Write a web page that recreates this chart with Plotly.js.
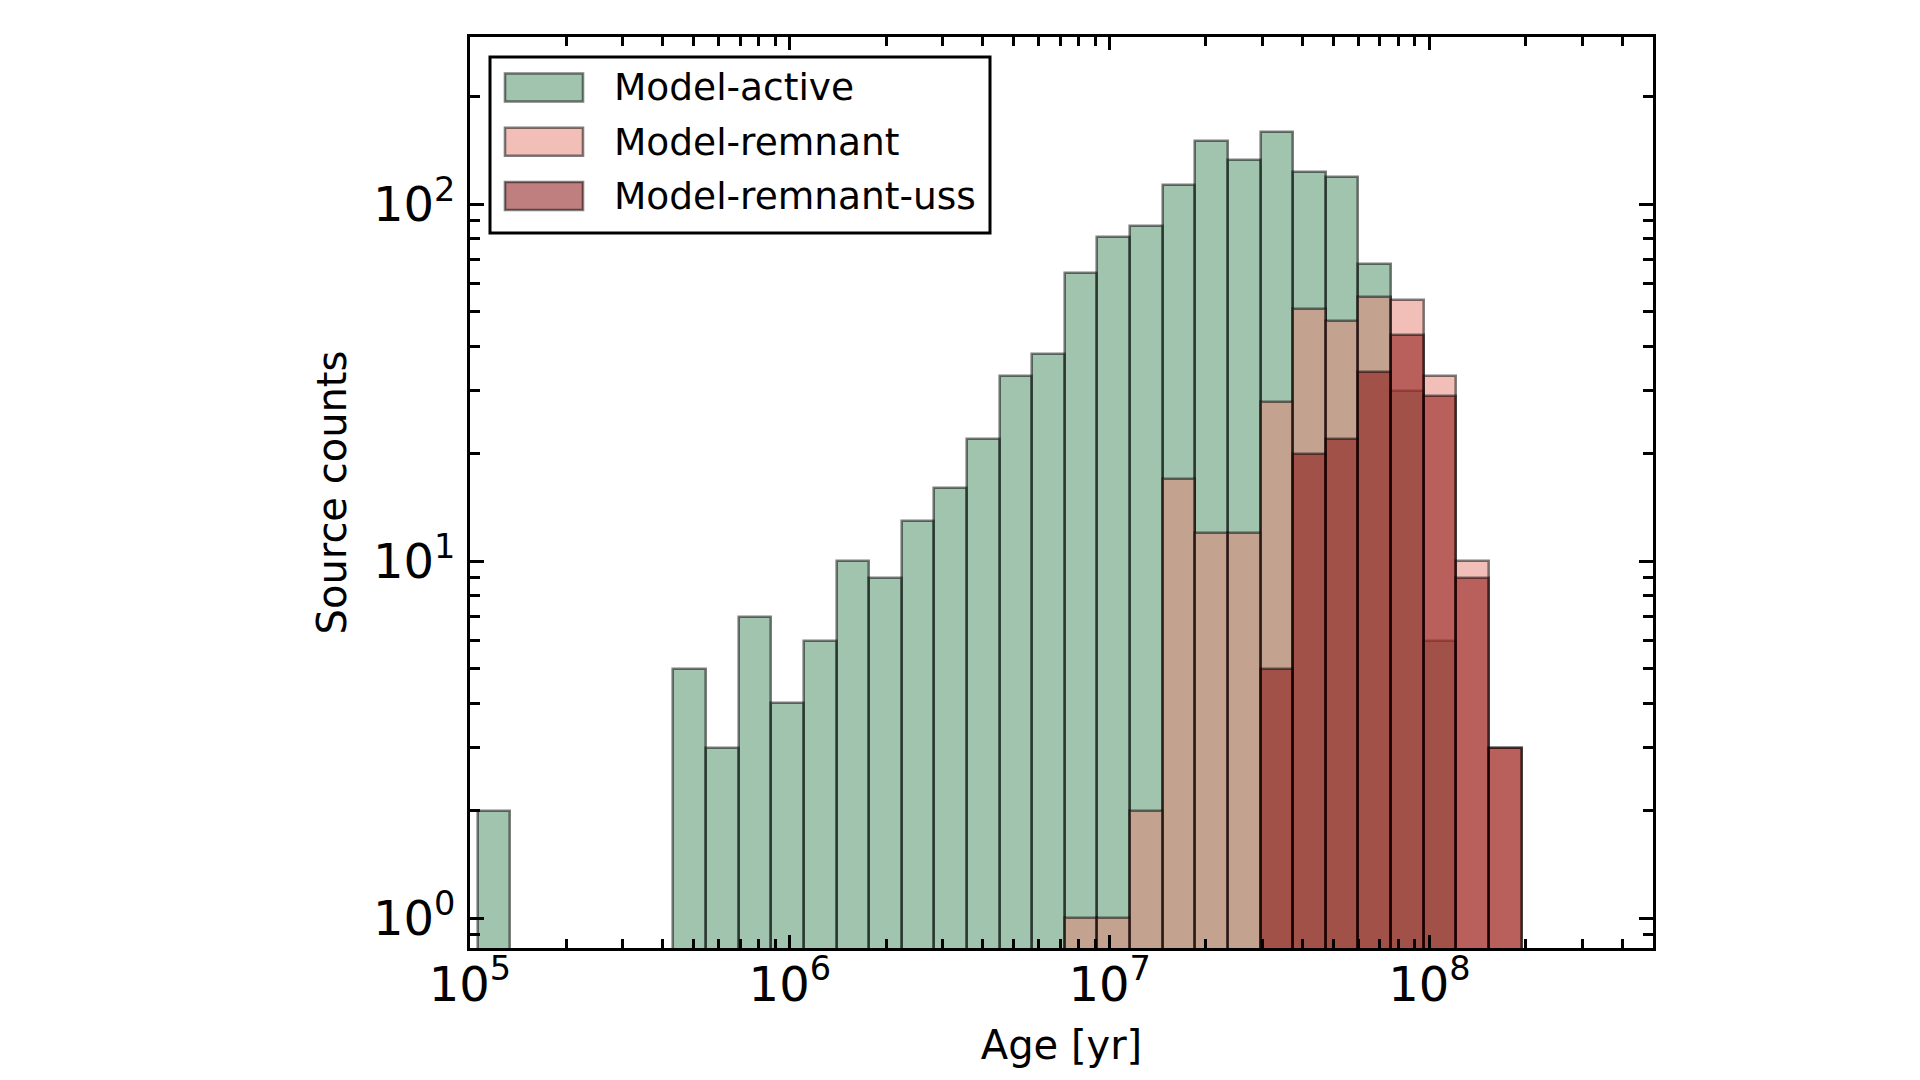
<!DOCTYPE html>
<html>
<head>
<meta charset="utf-8">
<script src="https://cdn.plot.ly/plotly-3.0.1.min.js"></script>
<style>
  html, body { margin: 0; padding: 0; background: #ffffff; }
  #chart { width: 1920px; height: 1080px; }
</style>
</head>
<body>
<div id="chart"></div>
<script>
// Histogram bin edges, log10(age / yr)
const binEdgesLog = [5.024, 5.126, 5.228, 5.330, 5.432, 5.534, 5.636, 5.738, 5.840, 5.942,
                     6.044, 6.146, 6.248, 6.350, 6.452, 6.554, 6.656, 6.758, 6.860, 6.962,
                     7.064, 7.166, 7.268, 7.370, 7.472, 7.574, 7.676, 7.778, 7.880, 7.982,
                     8.084, 8.186, 8.288];

// Source counts per bin (null = empty bin)
const modelActive = [2, null, null, null, null, null, 5, 3, 7, 4,
                     6, 10, 9, 13, 16, 22, 33, 38, 64, 81,
                     87, 113, 150, 133, 159, 123, 119, 68, 30, 6,
                     null, null];
const modelRemnant = [null, null, null, null, null, null, null, null, null, null,
                      null, null, null, null, null, null, null, null, 1, 1,
                      2, 17, 12, 12, 28, 51, 47, 55, 54, 33,
                      10, 3];
const modelRemnantUss = [null, null, null, null, null, null, null, null, null, null,
                         null, null, null, null, null, null, null, null, null, null,
                         null, null, null, null, 5, 20, 22, 34, 43, 29,
                         9, 3];

const seriesNames = ['Model-active', 'Model-remnant', 'Model-remnant-uss'];
const xTickVals = [1e5, 1e6, 1e7, 1e8];
const xTickText = ['10<sup>5</sup>', '10<sup>6</sup>', '10<sup>7</sup>', '10<sup>8</sup>'];
const yTickVals = [1, 10, 100];
const yTickText = ['10<sup>0</sup>', '10<sup>1</sup>', '10<sup>2</sup>'];

const fills = ['rgba(66,137,93,0.5)', 'rgba(230,127,114,0.5)', 'rgba(128,0,0,0.5)'];
const edge = 'rgba(0,0,0,0.5)';

// bar geometry from bin edges
const lo = binEdgesLog.slice(0, -1).map(v => Math.pow(10, v));
const hi = binEdgesLog.slice(1).map(v => Math.pow(10, v));
const centers = lo.map((a, i) => (a + hi[i]) / 2);
const widths = lo.map((a, i) => hi[i] - a);

function barTrace(vals, k) {
  return {
    type: 'bar', name: seriesNames[k], x: centers, y: vals, width: widths,
    marker: { color: fills[k], line: { color: edge, width: 2.6 } },
    showlegend: false, hoverinfo: 'x+y+name'
  };
}
const data = [barTrace(modelActive, 0), barTrace(modelRemnant, 1), barTrace(modelRemnantUss, 2)];

// minor tick positions
const xMinor = [];
for (let n = 5; n <= 8; n++) for (let k = 2; k <= 9; k++) { const v = k * Math.pow(10, n); if (v <= 5e8) xMinor.push(v); }
const yMinor = [0.9];
for (let n = 0; n <= 2; n++) for (let k = 2; k <= 9; k++) { const v = k * Math.pow(10, n); if (v <= 294) yMinor.push(v); }

// plot area in pixels
const L = 470, R = 1653, T = 37, B = 948;
const px = x => (x - L) / (R - L);
const py = y => (B - y) / (B - T);

const FONT = 'DejaVu Sans, Liberation Sans, sans-serif';

const shapes = [{
  type: 'rect', xref: 'paper', yref: 'paper', layer: 'above',
  x0: px(490), x1: px(990), y0: py(233), y1: py(57),
  fillcolor: '#ffffff', line: { color: '#000000', width: 3 }
}];
const annotations = [];
const rowY = [87.5, 141.7, 196];
for (let k = 0; k < 3; k++) {
  shapes.push({
    type: 'rect', xref: 'paper', yref: 'paper', layer: 'above',
    x0: px(505), x1: px(583), y0: py(rowY[k] + 14), y1: py(rowY[k] - 14),
    fillcolor: fills[k], line: { color: edge, width: 2.6 }
  });
  annotations.push({
    xref: 'paper', yref: 'paper', x: px(612), y: py(rowY[k]),
    xanchor: 'left', yanchor: 'middle', showarrow: false,
    text: seriesNames[k], font: { family: FONT, size: 37.5, color: '#000000' }
  });
}

const axisCommon = {
  showgrid: false, zeroline: false, showline: true, linecolor: '#000000', linewidth: 3,
  mirror: 'allticks', ticks: 'inside', tickcolor: '#000000', tickwidth: 2.5,
  tickmode: 'array', tickfont: { family: FONT, size: 48, color: '#000000' }
};

const layout = {
  width: 1920, height: 1080,
  margin: { l: L, r: 1920 - R, t: T, b: 1080 - B, pad: 0 },
  paper_bgcolor: '#ffffff', plot_bgcolor: '#ffffff',
  barmode: 'overlay', bargap: 0,
  font: { family: FONT, color: '#000000' },
  xaxis: Object.assign({}, axisCommon, {
    type: 'log', range: [5, Math.log10(5e8)], ticklen: 13,
    tickvals: xTickVals, ticktext: xTickText, ticklabelstandoff: -8,
    minor: { tickmode: 'array', tickvals: xMinor, ticks: 'inside', ticklen: 9, tickwidth: 2.5, tickcolor: '#000000', showgrid: false },
    title: { text: 'Age [yr]', font: { family: FONT, size: 40, color: '#000000' }, standoff: 21 }
  }),
  yaxis: Object.assign({}, axisCommon, {
    type: 'log', range: [Math.log10(0.826), Math.log10(294)], ticklen: 14,
    tickvals: yTickVals, ticktext: yTickText, ticklabelstandoff: 2,
    minor: { tickmode: 'array', tickvals: yMinor, ticks: 'inside', ticklen: 10, tickwidth: 2.5, tickcolor: '#000000', showgrid: false },
    title: { text: 'Source counts', font: { family: FONT, size: 40, color: '#000000' }, standoff: 14 }
  }),
  shapes: shapes,
  annotations: annotations,
  showlegend: false
};

Plotly.newPlot('chart', data, layout, { displayModeBar: false, staticPlot: false });
</script>
</body>
</html>
